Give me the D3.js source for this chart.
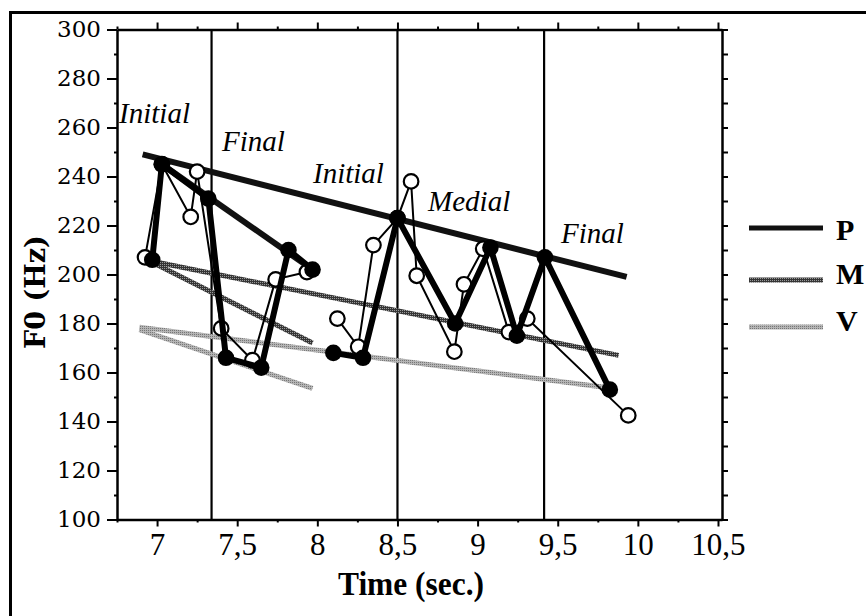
<!DOCTYPE html>
<html>
<head>
<meta charset="utf-8">
<script src="https://cdn.jsdelivr.net/npm/d3@7"></script>
<style>
  body { margin: 0; background: #fff; }
</style>
</head>
<body>
<div id="chart"></div>
<script>
// chart size
var width = 866,
    height = 616

// axis ticks
var xTicks = [7, 7.5, 8, 8.5, 9, 9.5, 10, 10.5]
var yTicks = [100, 120, 140, 160, 180, 200, 220, 240, 260, 280, 300]

// word boundaries (sec.)
var boundaryTimes = [7.34, 8.5, 9.415]

// F0 points [time, Hz] - filled circles
var filledA = [[6.97, 206], [7.03, 245], [7.32, 231], [7.43, 166], [7.65, 162], [7.82, 210], [7.97, 202]]
var filledB = [[8.10, 168], [8.285, 166], [8.50, 223], [8.86, 180], [9.08, 211], [9.245, 175], [9.42, 207], [9.825, 153]]

// F0 points [time, Hz] - open circles
var openA = [[6.925, 207], [7.03, 245], [7.21, 223.5], [7.25, 242], [7.40, 178], [7.595, 165], [7.74, 198], [7.935, 201]]
var openB = [[8.125, 182], [8.255, 170.5], [8.35, 212], [8.50, 223], [8.585, 238], [8.62, 199.5], [8.855, 168.5],
             [8.915, 196], [9.035, 210.5], [9.195, 176.5], [9.31, 182], [9.94, 142.5]]

// declination lines (P = peaks, M = mid, V = valleys)
var peakLines = [[[6.91, 249], [9.93, 199]], [[7.03, 245], [7.97, 202]]]
var midLines = [[[7.0, 205], [9.88, 167]], [[7.0, 204], [7.97, 172]]]
var valleyLines = [[[6.89, 178.5], [9.85, 153.5]], [[6.89, 177.5], [7.97, 153.5]]]

// position labels
var labelTexts = ["Initial", "Final", "Initial", "Medial", "Final"]
var labelTimes = [6.763, 7.405, 7.973, 8.691, 9.52]
var labelF0s = [261.8, 250.4, 237.3, 225.9, 212.9]

var legendNames = ["P", "M", "V"]

var svg = d3.select("#chart")
  .append("svg")
    .attr("width", width)
    .attr("height", height)

// halftone patterns for the gray lines
var defs = svg.append("defs")
var patM = defs.append("pattern").attr("id", "patM").attr("patternUnits", "userSpaceOnUse")
  .attr("width", 2).attr("height", 2)
patM.append("rect").attr("width", 2).attr("height", 2).attr("fill", "#353535")
patM.append("rect").attr("width", 1).attr("height", 1).attr("fill", "#999")
var patV = defs.append("pattern").attr("id", "patV").attr("patternUnits", "userSpaceOnUse")
  .attr("width", 2).attr("height", 2)
patV.append("rect").attr("width", 2).attr("height", 2).attr("fill", "#b4b4b4")
patV.append("rect").attr("width", 1).attr("height", 1).attr("fill", "#777")

// outer frame
svg.append("rect")
  .attr("x", 10.5).attr("y", 12.5)
  .attr("width", 900).attr("height", 700)
  .attr("fill", "none")
  .attr("stroke", "#000")
  .attr("stroke-width", 3)

var x = d3.scaleLinear().domain([6.75, 10.525]).range([117, 722])
var y = d3.scaleLinear().domain([100, 300]).range([519.5, 29.5])

var line = d3.line()
  .x(function(d) { return x(d[0]) })
  .y(function(d) { return y(d[1]) })

// word boundaries
svg.selectAll(".boundary")
  .data(boundaryTimes)
  .enter()
  .append("line")
    .attr("x1", function(d) { return x(d) })
    .attr("x2", function(d) { return x(d) })
    .attr("y1", y(300))
    .attr("y2", y(100))
    .attr("stroke", "#000")
    .attr("stroke-width", 2.2)

// declination lines
function drawLines(data, stroke, w) {
  svg.append("g")
    .selectAll("path")
    .data(data)
    .enter()
    .append("path")
      .attr("d", line)
      .attr("fill", "none")
      .attr("stroke", stroke)
      .attr("stroke-width", w)
}
drawLines(valleyLines, "url(#patV)", 5)
drawLines(midLines, "url(#patM)", 5)
drawLines(peakLines, "#111", 6)

// open circle series (thin lines)
;[openA, openB].forEach(function(series) {
  svg.append("path")
    .datum(series)
    .attr("d", line)
    .attr("fill", "none")
    .attr("stroke", "#000")
    .attr("stroke-width", 2)
  svg.append("g")
    .selectAll("circle")
    .data(series)
    .enter()
    .append("circle")
      .attr("cx", function(d) { return x(d[0]) })
      .attr("cy", function(d) { return y(d[1]) })
      .attr("r", 7.3)
      .attr("fill", "#fff")
      .attr("stroke", "#000")
      .attr("stroke-width", 2.2)
})

// filled circle series (thick lines)
;[filledA, filledB].forEach(function(series) {
  svg.append("path")
    .datum(series)
    .attr("d", line)
    .attr("fill", "none")
    .attr("stroke", "#000")
    .attr("stroke-width", 6)
    .attr("stroke-linejoin", "round")
  svg.append("g")
    .selectAll("circle")
    .data(series)
    .enter()
    .append("circle")
      .attr("cx", function(d) { return x(d[0]) })
      .attr("cy", function(d) { return y(d[1]) })
      .attr("r", 8.3)
      .attr("fill", "#000")
})

// position labels
svg.selectAll(".poslabel")
  .data(labelTexts)
  .enter()
  .append("text")
    .attr("x", function(d, i) { return x(labelTimes[i]) })
    .attr("y", function(d, i) { return y(labelF0s[i]) })
    .attr("font-family", "Liberation Serif, Times New Roman, serif")
    .attr("font-style", "italic")
    .attr("font-size", 29)
    .text(function(d) { return d })

// axes
var minorX = d3.range(6.75, 10.55, 0.25).filter(function(d) { return xTicks.indexOf(d) < 0 })
var minorY = d3.range(110, 300, 20)
var allY = d3.range(100, 301, 10)

function styleAxis(g) {
  g.select(".domain").attr("stroke-width", 2.5)
  g.selectAll(".tick line").attr("stroke-width", 2)
}

var gx = svg.append("g")
  .attr("transform", "translate(0," + y(100) + ")")
  .call(d3.axisBottom(x).tickValues(xTicks).tickSize(7).tickSizeOuter(0)
    .tickFormat(function(d) { return String(d).replace(".", ",") }))
  .call(styleAxis)
gx.attr("font-family", "Liberation Serif, Times New Roman, serif").attr("font-size", 31)
gx.selectAll("text").attr("y", 35).attr("dy", null).attr("fill", "#000")

svg.append("g")
  .attr("transform", "translate(0," + y(100) + ")")
  .call(d3.axisBottom(x).tickValues(minorX).tickSize(3).tickFormat(""))
  .call(styleAxis)
  .select(".domain").remove()

svg.append("g")
  .attr("transform", "translate(0," + y(300) + ")")
  .call(d3.axisTop(x).tickValues(xTicks).tickSize(7).tickSizeOuter(0).tickFormat(""))
  .call(styleAxis)
svg.append("g")
  .attr("transform", "translate(0," + y(300) + ")")
  .call(d3.axisTop(x).tickValues(minorX).tickSize(3).tickFormat(""))
  .call(styleAxis)
  .select(".domain").remove()

var gy = svg.append("g")
  .attr("transform", "translate(" + x(6.75) + ",0)")
  .call(d3.axisLeft(y).tickValues(yTicks).tickSize(10).tickPadding(6).tickSizeOuter(0))
  .call(styleAxis)
gy.attr("font-family", "DejaVu Serif, serif").attr("font-size", 23)
gy.selectAll("text").attr("fill", "#000")

svg.append("g")
  .attr("transform", "translate(" + x(6.75) + ",0)")
  .call(d3.axisLeft(y).tickValues(minorY).tickSize(3).tickFormat(""))
  .call(styleAxis)
  .select(".domain").remove()

svg.append("g")
  .attr("transform", "translate(" + x(10.525) + ",0)")
  .call(d3.axisRight(y).tickValues(allY).tickSize(6).tickSizeOuter(0).tickFormat(""))
  .call(styleAxis)

// axis titles
svg.append("text")
  .attr("transform", "translate(45,292) rotate(-90)")
  .attr("text-anchor", "middle")
  .attr("font-family", "DejaVu Serif, serif")
  .attr("font-weight", "bold")
  .attr("font-size", 27)
  .text("F0 (Hz)")

svg.append("text")
  .attr("x", 411)
  .attr("y", 595)
  .attr("text-anchor", "middle")
  .attr("font-family", "Liberation Serif, Times New Roman, serif")
  .attr("font-weight", "bold")
  .attr("font-size", 33)
  .attr("textLength", 146)
  .attr("lengthAdjust", "spacingAndGlyphs")
  .text("Time (sec.)")

// legend
var legendY = [228, 280, 327]
var legendStroke = ["#111", "url(#patM)", "url(#patV)"]
var legend = svg.append("g")
legend.selectAll("line")
  .data(legendNames)
  .enter()
  .append("line")
    .attr("x1", 749).attr("x2", 823)
    .attr("y1", function(d, i) { return legendY[i] })
    .attr("y2", function(d, i) { return legendY[i] })
    .attr("stroke", function(d, i) { return legendStroke[i] })
    .attr("stroke-width", 5)
legend.selectAll("text")
  .data(legendNames)
  .enter()
  .append("text")
    .attr("x", 836)
    .attr("y", function(d, i) { return legendY[i] + [12, 4, 4][i] })
    .attr("font-family", "Liberation Serif, Times New Roman, serif")
    .attr("font-weight", "bold")
    .attr("font-size", 30)
    .text(function(d) { return d })
</script>
</body>
</html>
